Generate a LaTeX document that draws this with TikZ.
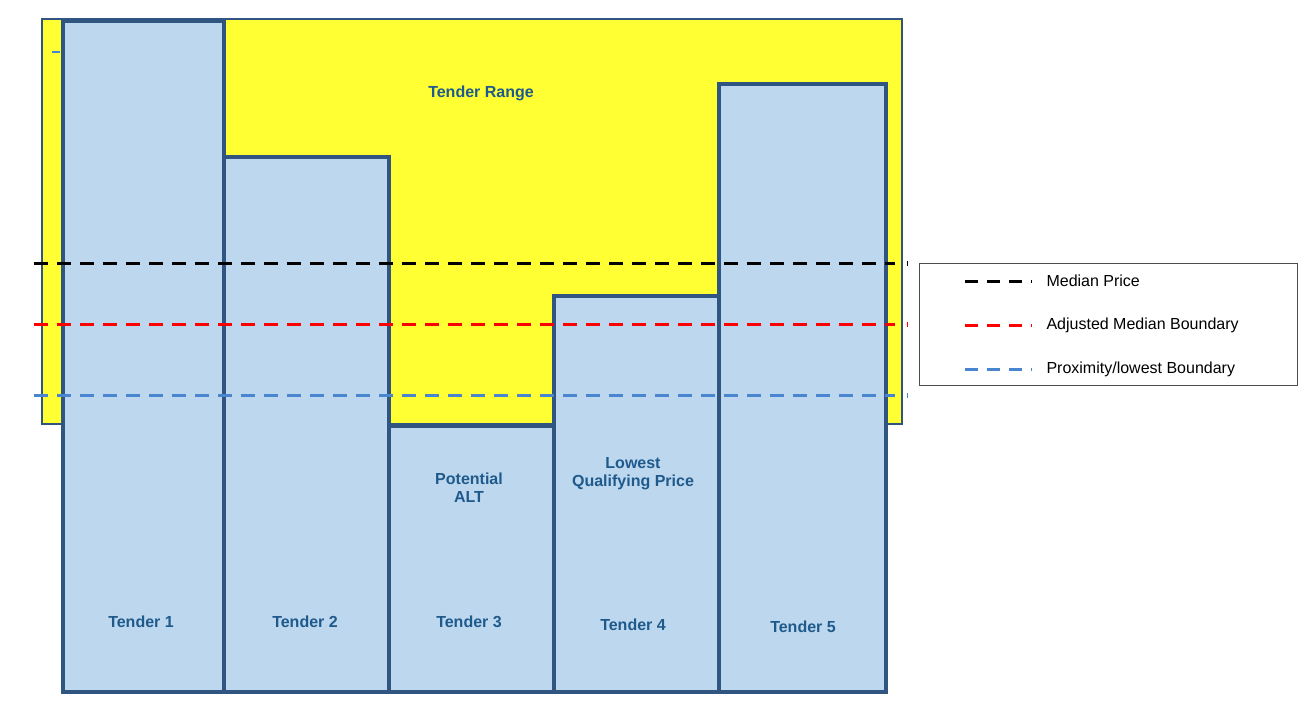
\documentclass[tikz,border=0pt]{standalone}
\usepackage{fontspec}
\setmainfont{Liberation Sans}
\begin{document}
\definecolor{bar}{HTML}{BDD7EE}
\definecolor{edge}{HTML}{2F5580}
\definecolor{lab}{HTML}{1F5A8C}
\definecolor{yel}{HTML}{FFFF33}
\definecolor{bl}{HTML}{4A86D0}
\begin{tikzpicture}[x=1pt,y=-1pt,
  barr/.style={draw=edge,line width=3.5pt,fill=bar},
  lbl/.style={text=lab,font=\fontsize{16}{18}\selectfont\bfseries,align=center},
  dl/.style={line width=3pt,dash pattern=on 14pt off 9pt},
  leg/.style={font=\fontsize{16}{18}\selectfont,anchor=west}]
\useasboundingbox (0,0) rectangle (1308,702);
\node[draw=edge,line width=2pt,fill=yel,minimum width=860pt,minimum height=405pt,inner sep=0,anchor=north west] (range) at (41,18) {};
\draw[bl,line width=2pt] (52,52) -- (60,52);
\node[barr,minimum width=161pt,minimum height=671pt,anchor=north west,inner sep=0] (t1) at (61,19) {};
\node[barr,minimum width=165pt,minimum height=535pt,anchor=north west,inner sep=0] (t2) at (222,155) {};
\node[barr,minimum width=165pt,minimum height=266pt,anchor=north west,inner sep=0] (t3) at (387,424) {};
\node[barr,minimum width=165pt,minimum height=396pt,anchor=north west,inner sep=0] (t4) at (552,294) {};
\node[barr,minimum width=167pt,minimum height=608pt,anchor=north west,inner sep=0] (t5) at (717,82) {};
\node[lbl] (rl) at (481,93) {Tender Range};
\node[lbl] (l1) at (141,622) {Tender 1};
\node[lbl] (l2) at (305,622) {Tender 2};
\node[lbl] (l3) at (469,622) {Tender 3};
\node[lbl] (l4) at (633,625) {Tender 4};
\node[lbl] (l5) at (803,627) {Tender 5};
\node[lbl] (pa) at (469,488) {Potential\\ALT};
\node[lbl] (lq) at (633,474) {Lowest\\Qualifying Price};
\coordinate (a1) at (34,263); \coordinate (a2) at (895,263);
\coordinate (b1) at (34,324); \coordinate (b2) at (895,324);
\coordinate (c1) at (34,395); \coordinate (c2) at (895,395);
\draw[dl,black] (a1) -- (a2);
\draw[dl,red] (b1) -- (b2);
\draw[dl,bl] (c1) -- (c2);
\draw[black,line width=1pt] (907,261) -- (907,266);
\draw[red,line width=1pt] (907,322) -- (907,327);
\draw[bl,line width=1pt] (907,393) -- (907,398);
\node[draw=black!70,line width=1pt,minimum width=378pt,minimum height=122pt,anchor=north west,inner sep=0] (legend) at (919,263) {};
\draw[dl,black,dash pattern=on 13pt off 9pt] (965,281) -- (1032,281);
\draw[dl,red,dash pattern=on 13pt off 9pt] (965,325) -- (1032,325);
\draw[dl,bl,dash pattern=on 13pt off 9pt] (965,369) -- (1032,369);
\node[leg] (m1) at (1043,281) {Median Price};
\node[leg] (m2) at (1043,325) {Adjusted Median Boundary};
\node[leg] (m3) at (1043,369) {Proximity/lowest Boundary};
\end{tikzpicture}
\end{document}
